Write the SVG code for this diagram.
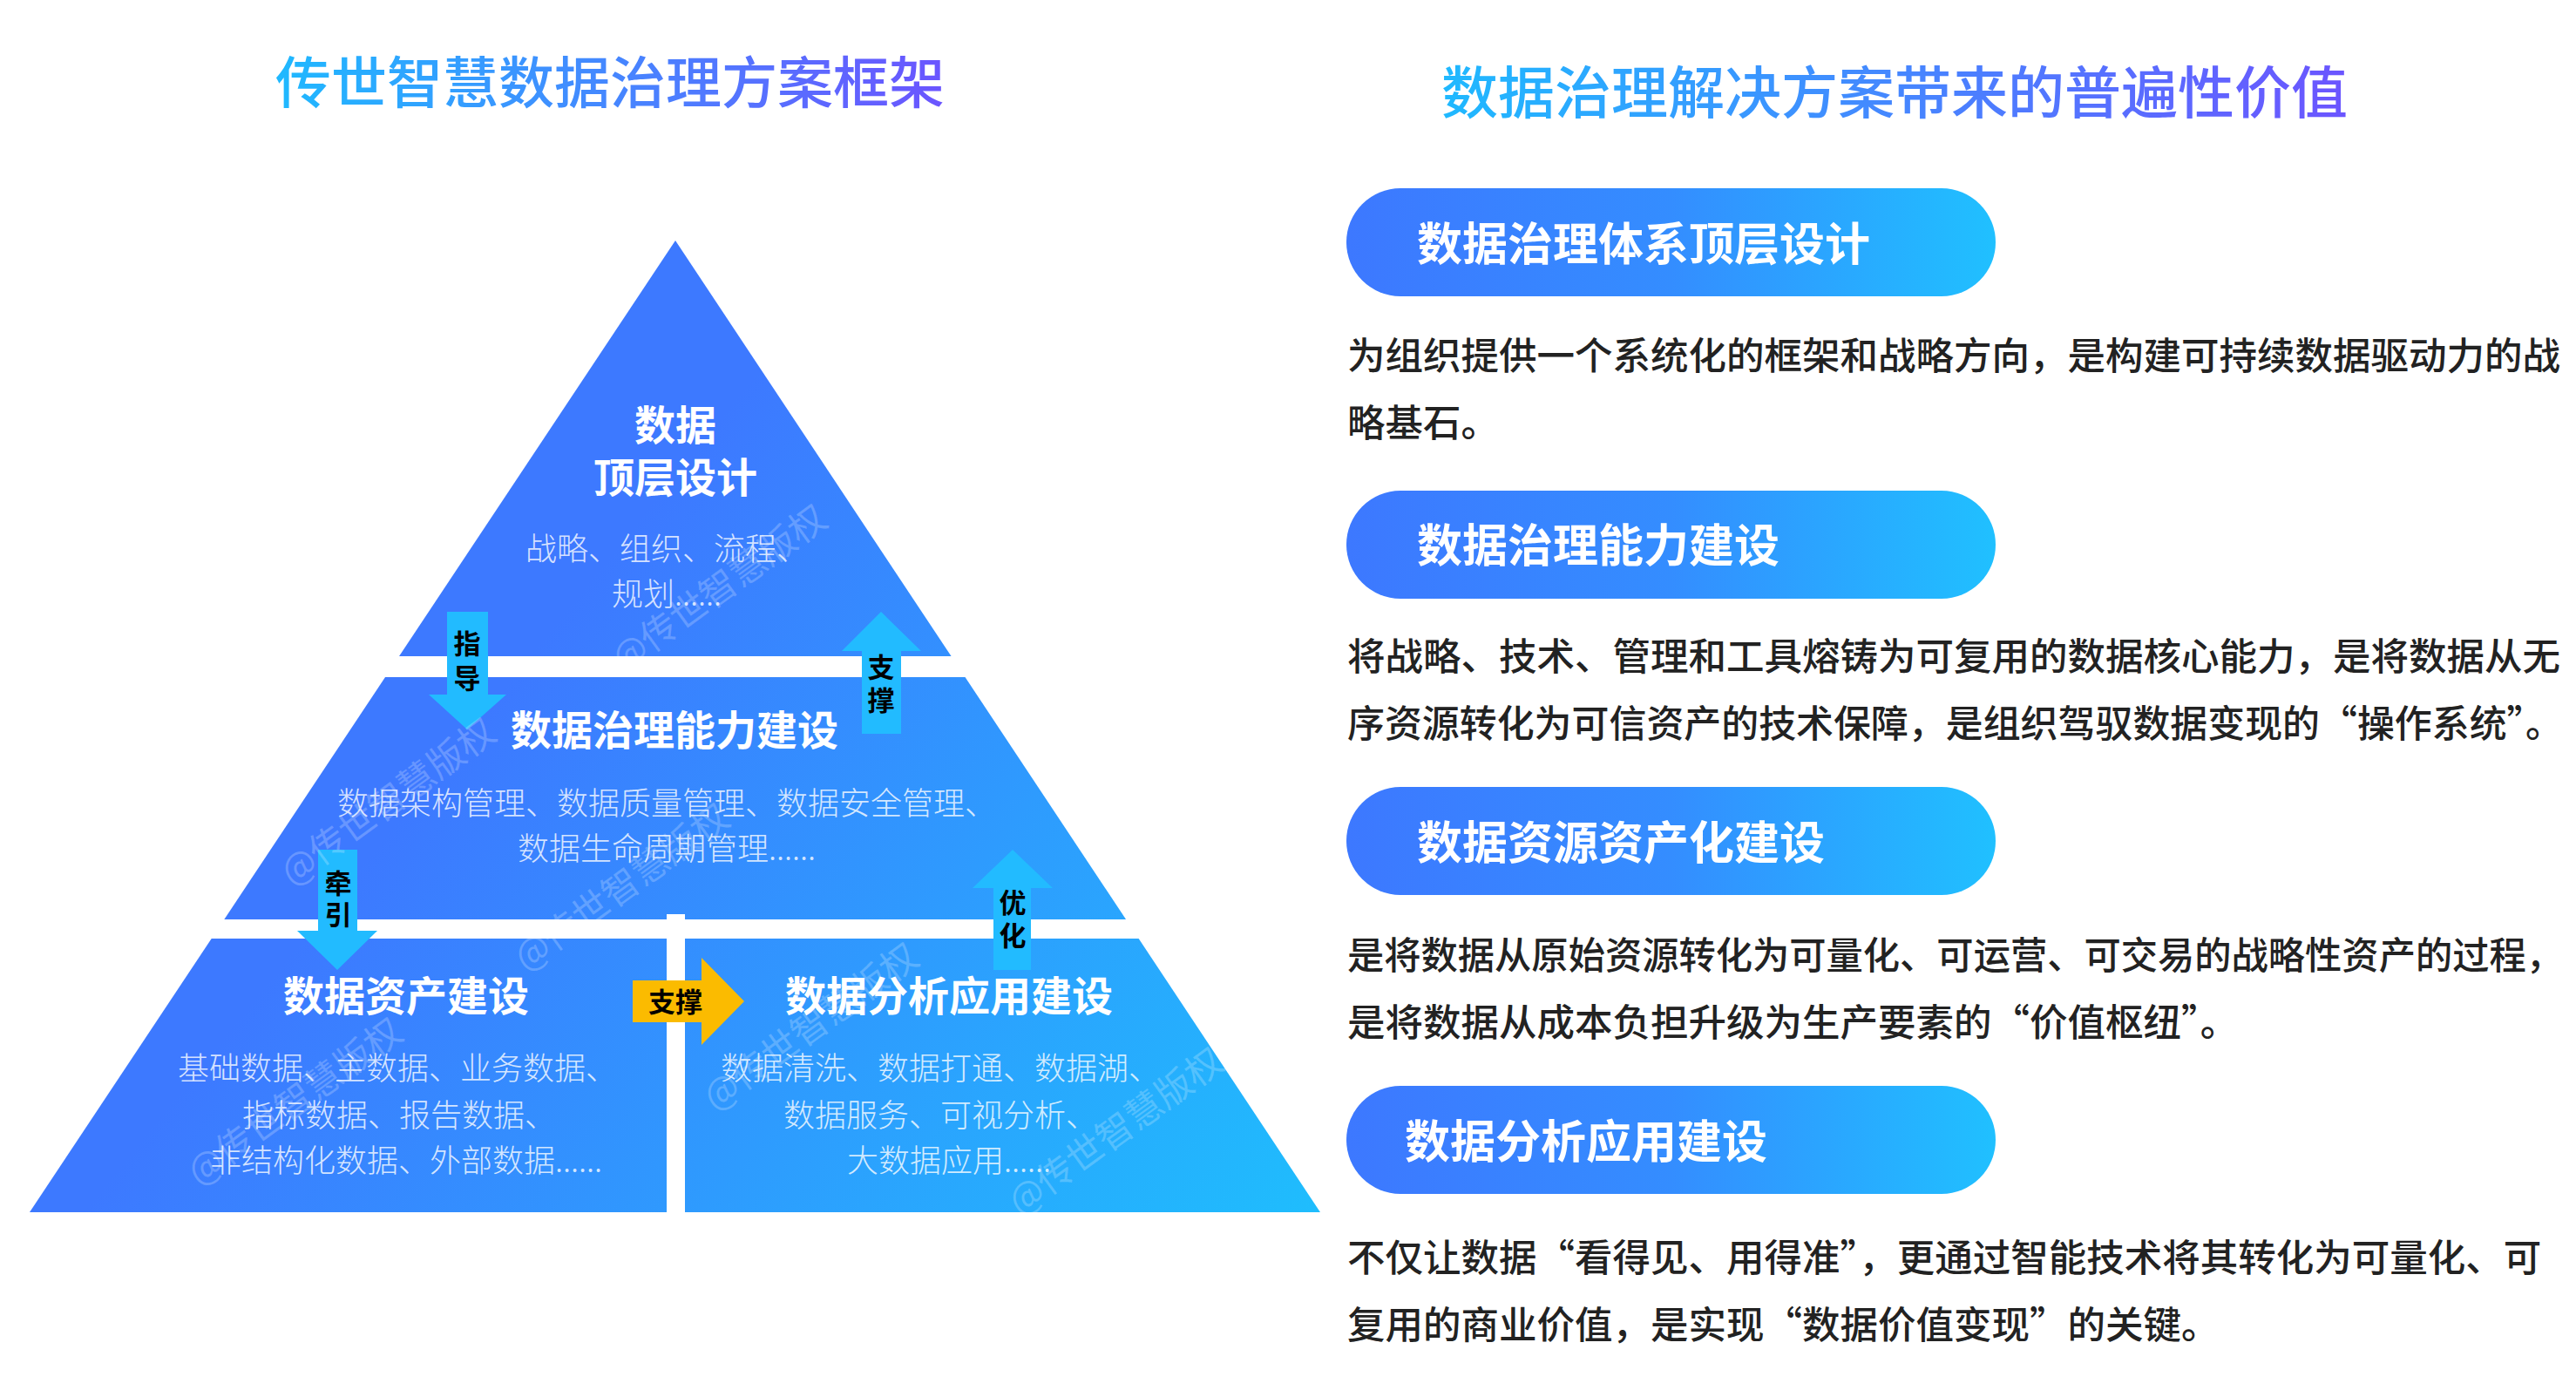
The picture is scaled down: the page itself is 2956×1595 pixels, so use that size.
<svg xmlns="http://www.w3.org/2000/svg" width="2956" height="1595" viewBox="0 0 2956 1595">
<defs>
<linearGradient id="tg" x1="0" y1="0" x2="1" y2="0"><stop offset="0" stop-color="#1fb9ff"/><stop offset="1" stop-color="#6b55ff"/></linearGradient>
<linearGradient id="pyr" gradientUnits="userSpaceOnUse" x1="650" y1="700" x2="1510" y2="1390"><stop offset="0" stop-color="#3d79ff"/><stop offset="1" stop-color="#1fbdfd"/></linearGradient>
<linearGradient id="pill" x1="0" y1="0" x2="1" y2="0"><stop offset="0" stop-color="#3d78ff"/><stop offset="0.5" stop-color="#348dff"/><stop offset="1" stop-color="#20c0ff"/></linearGradient>
<style>
text{font-family:"Noto Sans CJK SC","Noto Sans",sans-serif;dominant-baseline:central}
.h{font-weight:700;fill:#fff;text-anchor:middle;font-size:47px}
.d{font-weight:300;fill:#fff;fill-opacity:0.8;text-anchor:middle;font-size:36px}
.a{font-weight:700;fill:#000;text-anchor:middle;font-size:31px}
.w{font-weight:400;fill:#fff;fill-opacity:0.22;text-anchor:middle;font-size:42px}
.pt{font-weight:700;fill:#fff;font-size:52px}
.p{font-weight:500;fill:#222;font-size:43.5px}
.arr{fill:#22bbff}
</style>
</defs>
<rect width="2956" height="1595" fill="#fff"/>
<text x="700" y="90" font-size="64" font-weight="500" fill="url(#tg)" text-anchor="middle">传世智慧数据治理方案框架</text>
<text x="2174" y="102" font-size="65" font-weight="500" fill="url(#tg)" text-anchor="middle">数据治理解决方案带来的普遍性价值</text>
<g id="pyramid">
<polygon points="775,276 34,1391 1515,1391" fill="url(#pyr)"/>
<rect x="0" y="753" width="1600" height="24" fill="#fff"/>
<rect x="0" y="1055" width="1600" height="22" fill="#fff"/>
<rect x="765" y="1049" width="21" height="345" fill="#fff"/>
</g>
<g id="top"><text class="h" x="775" y="484">数据</text><text class="h" x="775" y="544">顶层设计</text><text class="d" x="765" y="627">战略、组织、流程、</text><text class="d" x="765" y="679">规划......</text></g>
<g id="mid"><text class="h" x="774" y="834">数据治理能力建设</text><text class="d" x="765" y="919">数据架构管理、数据质量管理、数据安全管理、</text><text class="d" x="765" y="971">数据生命周期管理......</text></g>
<g id="asset"><text class="h" x="466" y="1139">数据资产建设</text><text class="d" x="456" y="1223">基础数据、主数据、业务数据、</text><text class="d" x="458" y="1277">指标数据、报告数据、</text><text class="d" x="466" y="1329">非结构化数据、外部数据......</text></g>
<g id="analysis"><text class="h" x="1089" y="1139">数据分析应用建设</text><text class="d" x="1079" y="1223">数据清洗、数据打通、数据湖、</text><text class="d" x="1079" y="1277">数据服务、可视分析、</text><text class="d" x="1089" y="1329">大数据应用......</text></g>
<g id="connectors">
<polygon class="arr" points="513,702 560,702 560,797 581,797 536,837 492,797 513,797"/>
<text class="a" x="536" y="736">指</text><text class="a" x="536" y="776">导</text>
<polygon class="arr" points="1011,702 1057,747 1034,747 1034,842 989,842 989,747 966,747"/>
<text class="a" x="1011" y="763">支</text><text class="a" x="1011" y="801">撑</text>
<polygon class="arr" points="365,975 410,975 410,1068 433,1068 387,1113 341,1068 365,1068"/>
<text class="a" x="388" y="1011">牵</text><text class="a" x="388" y="1047">引</text>
<polygon class="arr" points="1162,975 1208,1019 1183,1019 1183,1113 1140,1113 1140,1019 1116,1019"/>
<text class="a" x="1162" y="1033">优</text><text class="a" x="1162" y="1071">化</text>
<polygon points="726,1125 805,1125 805,1099 854,1149 805,1199 805,1173 726,1173" fill="#fbbb00"/>
<text class="a" x="775" y="1147">支撑</text>
</g>
<g id="watermarks">
<text class="w" transform="translate(823,672) rotate(-36)">@传世智慧版权</text>
<text class="w" transform="translate(443,917) rotate(-36)">@传世智慧版权</text>
<text class="w" transform="translate(711,1015) rotate(-36)">@传世智慧版权</text>
<text class="w" transform="translate(336,1261) rotate(-36)">@传世智慧版权</text>
<text class="w" transform="translate(928,1175) rotate(-36)">@传世智慧版权</text>
<text class="w" transform="translate(1278,1295) rotate(-36)">@传世智慧版权</text>
</g>
<g id="v1"><rect x="1545" y="216" width="745" height="124" rx="62" fill="url(#pill)"/><text class="pt" x="1626" y="276">数据治理体系顶层设计</text>
<text class="p" x="1546" y="405">为组织提供一个系统化的框架和战略方向，是构建可持续数据驱动力的战</text><text class="p" x="1546" y="482">略基石。</text></g>
<g id="v2"><rect x="1545" y="563" width="745" height="124" rx="62" fill="url(#pill)"/><text class="pt" x="1626" y="622">数据治理能力建设</text>
<text class="p" x="1546" y="750">将战略、技术、管理和工具熔铸为可复用的数据核心能力，是将数据从无</text><text class="p" x="1546" y="827" textLength="1395" lengthAdjust="spacingAndGlyphs">序资源转化为可信资产的技术保障，是组织驾驭数据变现的“操作系统”。</text></g>
<g id="v3"><rect x="1545" y="903" width="745" height="124" rx="62" fill="url(#pill)"/><text class="pt" x="1626" y="963">数据资源资产化建设</text>
<text class="p" x="1546" y="1093" textLength="1395" lengthAdjust="spacingAndGlyphs">是将数据从原始资源转化为可量化、可运营、可交易的战略性资产的过程，</text><text class="p" x="1546" y="1170">是将数据从成本负担升级为生产要素的“价值枢纽”。</text></g>
<g id="v4"><rect x="1545" y="1246" width="745" height="124" rx="62" fill="url(#pill)"/><text class="pt" x="1612" y="1306">数据分析应用建设</text>
<text class="p" x="1546" y="1440">不仅让数据“看得见、用得准”，更通过智能技术将其转化为可量化、可</text><text class="p" x="1546" y="1517">复用的商业价值，是实现“数据价值变现”的关键。</text></g>
</svg>
